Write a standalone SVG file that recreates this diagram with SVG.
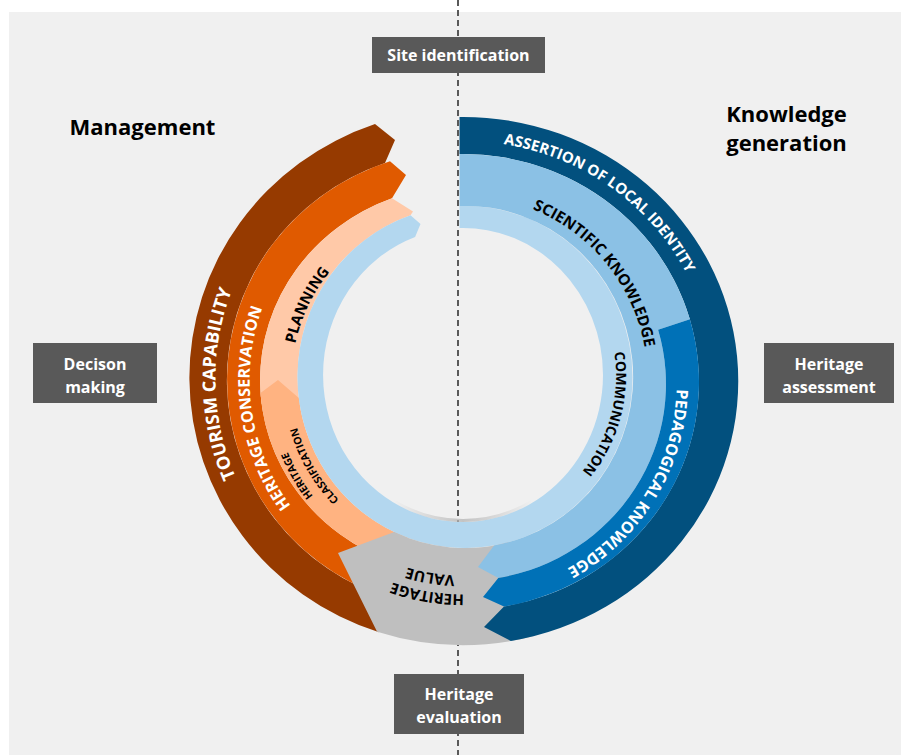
<svg xmlns="http://www.w3.org/2000/svg" width="901" height="755" viewBox="0 0 901 755">
  <style>
    .f { font-family: "Open Sans", "Liberation Sans", sans-serif; font-weight: 700; }
    .box { fill: #595959; }
    .boxtxt { fill: #ffffff; font-size: 16px; text-anchor: middle; }
    .head { fill: #000000; font-size: 22px; text-anchor: middle; }
    .w { fill: #ffffff; }
    .k { fill: #000000; }
  </style>
  <defs>
    <!-- baselines for the curved band labels (all run clockwise) -->
    <path id="tp-assert" d="M458.6,141 A250,240.5 0 0 1 703.3,315.2"/>
    <path id="tp-sci" d="M498.2,198.9 A184.5,184.5 0 0 1 647.5,383.2"/>
    <path id="tp-comm" d="M588.5,288.8 A152,152 0 0 1 528.2,513.8"/>
    <path id="tp-ped" d="M665.5,313.8 A213.7,213.7 0 0 1 494.9,593.3"/>
    <path id="tp-tour" d="M307.9,571.9 A247.6,247.6 0 0 1 299.9,192.7"/>
    <path id="tp-cons" d="M350.6,561.3 A213.3,213.3 0 0 1 304,237.8"/>
    <path id="tp-plan" d="M306.6,450.6 A171.6,171.6 0 0 1 420.6,213.7"/>
    <path id="tp-class1" d="M430.1,566.6 A189.5,189.5 0 0 1 284.9,315.2"/>
    <path id="tp-class2" d="M433,549.9 A172.5,172.5 0 0 1 300.9,321"/>
    <path id="tp-val1" d="M590,528.7 A195.6,195.6 0 0 1 294.5,479.3"/>
    <path id="tp-val2" d="M602.2,543 A214.3,214.3 0 0 1 278.4,488.8"/>
    <linearGradient id="holeShade" gradientUnits="userSpaceOnUse" x1="394" y1="0" x2="532" y2="0">
      <stop offset="0" stop-color="#b8b8b8" stop-opacity="0"/>
      <stop offset="0.5" stop-color="#b8b8b8" stop-opacity="0.8"/>
      <stop offset="1" stop-color="#b8b8b8" stop-opacity="0"/>
    </linearGradient>
  </defs>

  <!-- canvas -->
  <rect x="0" y="0" width="901" height="755" fill="#ffffff"/>
  <rect x="9" y="12" width="892" height="743" fill="#f0f0f0"/>

  <!-- vertical divider -->
  <g id="connectors">
    <line x1="458" y1="0" x2="458" y2="755" stroke="#595959" stroke-width="2" stroke-dasharray="6 4"/>
  </g>

  <!-- management side (left) -->
  <g id="tourism-capability">
    <path d="M379,632.3 A275,268 0 0 1 375,124.1 L395,140 L385,162.9 A236,230 0 0 0 394,600 Z" fill="#963a00"/>
  </g>
  <g id="heritage-conservation">
    <path d="M382.3,596.1 A236,230 0 0 1 390,161.3 L406,175 L392,198.3 A203,194 0 0 0 393.6,562.3 Z" fill="#e05a00"/>
  </g>
  <g id="planning">
    <path d="M261.6,404 A203,194 0 0 1 392,198.3 L413,211.5 L410.5,215.3 A167.5,171 0 0 0 299.6,404 Z" fill="#ffc9a8"/>
  </g>
  <g id="heritage-classification">
    <path d="M407.7,537.7 L393.6,562.3 A203,194 0 0 1 260.5,393 L278,380 L298.8,398 A167.5,171 0 0 0 407.7,537.7 Z" fill="#ffb381"/>
  </g>

  <!-- inner ring -->
  <g id="communication">
    <path d="M459.5,206 A167.5,171 0 0 1 632.5,377 A167.5,171 0 0 1 407.7,537.7 A167.5,171 0 0 1 410.5,215.3 L420.5,224 L415.1,236.9 A140,147 0 0 0 415.1,513.1 A140,147 0 0 0 603,375 A140,147 0 0 0 459.5,228 Z" fill="#b3d7ef"/>
    <path d="M393.8,501 A138.5,145.5 0 0 0 532.3,501" fill="none" stroke="url(#holeShade)" stroke-width="3"/>
  </g>

  <!-- bottom block -->
  <g id="heritage-value">
    <path d="M534.2,636 A275,264 0 0 1 377.1,631.8 L338,553 L394.2,532 A167.5,171 0 0 0 508.4,542.2 Z" fill="#bfbfbf"/>
  </g>

  <!-- knowledge generation side (right) -->
  <g id="assertion-of-local-identity">
    <path d="M459.5,117 A275,264 0 0 1 510.8,641 L484,627 L504,606.5 A236,228 0 0 0 459.5,154 Z" fill="#02507e"/>
  </g>
  <g id="scientific-knowledge">
    <path d="M459.5,154 A236,228 0 0 1 689.9,319.2 L658.1,329.7 A203,197 0 0 1 498.3,578 L478,567 L494.1,545.4 A167.5,171 0 0 0 459.5,206 Z" fill="#8bc1e5"/>
  </g>
  <g id="pedagogical-knowledge">
    <path d="M689.9,319.2 A236,228 0 0 1 504,606.5 L483,597 L498.3,578 A203,197 0 0 0 658.1,329.7 Z" fill="#0071b7"/>
  </g>

  <!-- band labels -->
  <g id="band-labels" class="f">
    <text class="w" font-size="15"><textPath href="#tp-assert" startOffset="50%" text-anchor="middle">ASSERTION OF LOCAL IDENTITY</textPath></text>
    <text class="k" font-size="15.5"><textPath href="#tp-sci" startOffset="50%" text-anchor="middle">SCIENTIFIC KNOWLEDGE</textPath></text>
    <text class="k" font-size="14"><textPath href="#tp-comm" startOffset="50%" text-anchor="middle">COMMUNICATION</textPath></text>
    <text class="w" font-size="16"><textPath href="#tp-ped" startOffset="50%" text-anchor="middle">PEDAGOGICAL KNOWLEDGE</textPath></text>
    <text class="w" font-size="18"><textPath href="#tp-tour" startOffset="50%" text-anchor="middle">TOURISM CAPABILITY</textPath></text>
    <text class="w" font-size="16"><textPath href="#tp-cons" startOffset="50%" text-anchor="middle">HERITAGE CONSERVATION</textPath></text>
    <text class="k" font-size="15"><textPath href="#tp-plan" startOffset="50%" text-anchor="middle">PLANNING</textPath></text>
    <text class="k" font-size="10.5"><textPath href="#tp-class1" startOffset="50%" text-anchor="middle">HERITAGE</textPath></text>
    <text class="k" font-size="10.5"><textPath href="#tp-class2" startOffset="50%" text-anchor="middle">CLASSIFICATION</textPath></text>
    <text class="k" font-size="15"><textPath href="#tp-val1" startOffset="50%" text-anchor="middle">VALUE</textPath></text>
    <text class="k" font-size="15"><textPath href="#tp-val2" startOffset="50%" text-anchor="middle">HERITAGE</textPath></text>
  </g>

  <!-- side headings -->
  <g id="heading-management" class="f">
    <text class="head" x="142.5" y="135">Management</text>
  </g>
  <g id="heading-knowledge" class="f">
    <text class="head" x="786.5" y="121.5">Knowledge</text>
    <text class="head" x="786.5" y="151">generation</text>
  </g>

  <!-- stage boxes -->
  <g id="site-identification" class="f">
    <rect class="box" x="372" y="37" width="173" height="36"/>
    <text class="boxtxt" x="458.5" y="61">Site identification</text>
  </g>
  <g id="decision-making" class="f">
    <rect class="box" x="33" y="343" width="124" height="60"/>
    <text class="boxtxt" x="95" y="370">Decison</text>
    <text class="boxtxt" x="95" y="393">making</text>
  </g>
  <g id="heritage-assessment" class="f">
    <rect class="box" x="764" y="343" width="130" height="60"/>
    <text class="boxtxt" x="829" y="370">Heritage</text>
    <text class="boxtxt" x="829" y="393">assessment</text>
  </g>
  <g id="heritage-evaluation" class="f">
    <rect class="box" x="394" y="674" width="130" height="60"/>
    <text class="boxtxt" x="459" y="699.5">Heritage</text>
    <text class="boxtxt" x="459" y="722.5">evaluation</text>
  </g>
</svg>
